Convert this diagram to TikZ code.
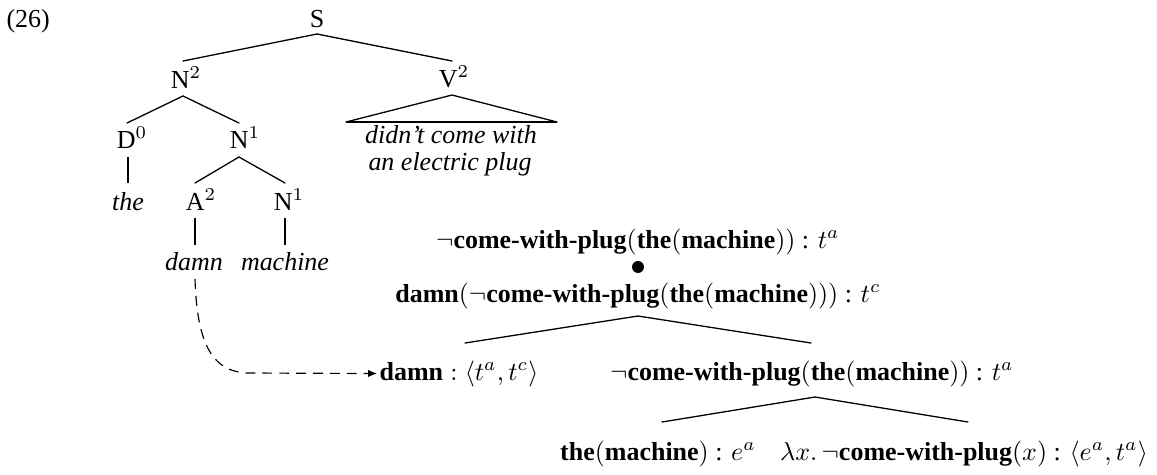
\documentclass[tikz,border=0pt]{standalone}
\usepackage{fontspec}
\setmainfont{Liberation Serif}
\usetikzlibrary{arrows.meta}
\begin{document}
\begin{tikzpicture}[x=0.385pt,y=-0.385pt,
  lab/.style={inner sep=0pt,anchor=base,font=\fontsize{10}{12}\selectfont},
  br/.style={line width=0.5pt,line cap=round},
  stem/.style={line width=0.65pt},
  dasharrow/.style={line width=0.45pt,dash pattern=on 3.8pt off 2.7pt,-{Latex[length=3.4pt,width=2.8pt]}},
  dot/.style={circle,fill=black,inner sep=0pt,minimum size=4.6pt}]
\fill[white] (0,0) rectangle (1157,474);
\useasboundingbox (0,0) rectangle (1157,474);
% syntactic tree
\node[lab,anchor=base west] (n26) at (6,27) {(26)};
\node[lab] (S) at (317,27) {S};
\node[lab] (N2) at (186,88) {N$^2$};
\node[lab] (V2) at (454,87) {V$^2$};
\node[lab] (vp1) at (451,143) {\textit{didn't come with}};
\node[lab] (vp2) at (450,170) {\textit{an electric plug}};
\node[lab] (D0) at (132,148) {D$^0$};
\node[lab] (N1a) at (245,148) {N$^1$};
\node[lab] (the) at (128,210) {\textit{the}};
\node[lab] (A2) at (201,210) {A$^2$};
\node[lab] (N1b) at (289,210) {N$^1$};
\node[lab] (damn) at (194,270) {\textit{damn}};
\node[lab] (machine) at (285,270) {\textit{machine}};
\draw[br] ([shift={(0,7)}]S.base) -- ([shift={(-3,-27)}]N2.base);
\draw[br] ([shift={(0,7)}]S.base) -- ([shift={(-2,-26)}]V2.base);
\draw[br] ([shift={(-3,8)}]N2.base) -- ([shift={(-5,-25)}]D0.base);
\draw[br] ([shift={(-3,8)}]N2.base) -- ([shift={(-6,-25)}]N1a.base);
\draw[br] ([shift={(-105,-21)}]vp1.base) -- ([shift={(-2,8)}]V2.base) -- ([shift={(106,-21)}]vp1.base);
\draw[stem] ([shift={(-105,-21)}]vp1.base) -- ([shift={(106,-21)}]vp1.base);
\draw[stem] ([shift={(-4,9)}]D0.base) -- ([shift={(0,-27)}]the.base);
\draw[br] ([shift={(-6,9)}]N1a.base) -- ([shift={(-6,-27)}]A2.base);
\draw[br] ([shift={(-6,9)}]N1a.base) -- ([shift={(-4,-27)}]N1b.base);
\draw[stem] ([shift={(-6,8)}]A2.base) -- ([shift={(1,-25)}]damn.base);
\draw[stem] ([shift={(-4,8)}]N1b.base) -- ([shift={(0,-25)}]machine.base);
% semantic tree
\node[lab] (sem1) at (638,248) {$\neg\textbf{come-with-plug}(\textbf{the}(\textbf{machine}))$ : $t^a$};
\node[dot] (bul) at (638,267) {};
\node[lab] (sem2) at (638,302) {$\textbf{damn}(\neg\textbf{come-with-plug}(\textbf{the}(\textbf{machine})))$ : $t^c$};
\node[lab] (sem3) at (459,380) {$\textbf{damn} : \langle t^a, t^c\rangle$};
\node[lab] (sem4) at (812,380) {$\neg\textbf{come-with-plug}(\textbf{the}(\textbf{machine}))$ : $t^a$};
\node[lab] (sem5) at (658,460) {$\textbf{the}(\textbf{machine})$ : $e^a$};
\node[lab] (sem6) at (964,460) {$\lambda x.\,\neg\textbf{come-with-plug}(x)$ : $\langle e^a, t^a\rangle$};
\draw[br] ([shift={(6,-37)}]sem3.base) -- ([shift={(0,14)}]sem2.base) -- ([shift={(-1,-37)}]sem4.base);
\draw[br] ([shift={(4,-38)}]sem5.base) -- ([shift={(3,17)}]sem4.base) -- ([shift={(4,-38)}]sem6.base);
% dashed arrow
\coordinate (bend) at (250,373);
\draw[dasharrow] ([shift={(1,9)}]damn.base) .. controls (197,340) and (210,373) .. (bend) -- ([xshift=-0.8pt]sem3.west);
\end{tikzpicture}
\end{document}
